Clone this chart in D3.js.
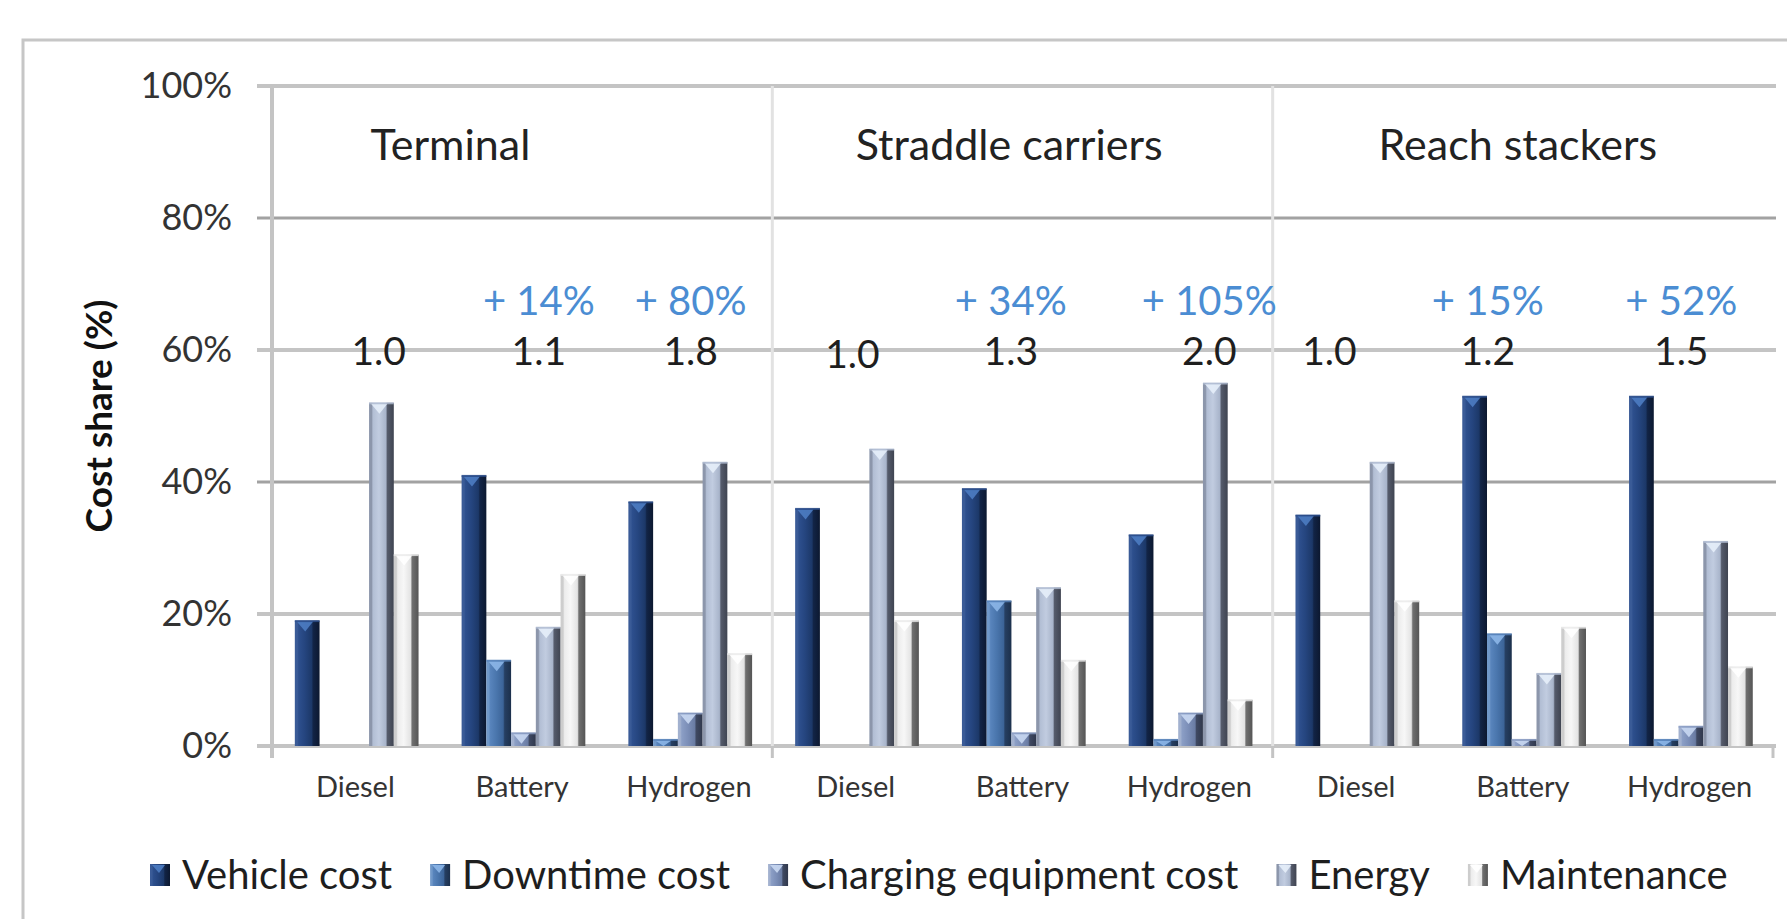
<!DOCTYPE html>
<html>
<head>
<meta charset="utf-8">
<script src="https://cdn.jsdelivr.net/npm/d3@7"></script>
<style>
  html, body { margin: 0; padding: 0; background: #ffffff; }
  svg { display: block; }
  text { font-family: Lato, "Open Sans", "Noto Sans", sans-serif; }
</style>
</head>
<body>
<svg id="chart" width="1787" height="919"></svg>
<script>
// ---- data -------------------------------------------------------------
const groups = ["Terminal", "Straddle carriers", "Reach stackers"];
const powertrains = ["Diesel", "Battery", "Hydrogen"];
const seriesNames = ["Vehicle cost", "Downtime cost", "Charging equipment cost", "Energy", "Maintenance"];

// cost shares (%) per group × powertrain, in the order of groups then powertrains
const vehicleCost     = [19, 41, 37, 36, 39, 32, 35, 53, 53];
const downtimeCost    = [ 0, 13,  1,  0, 22,  1,  0, 17,  1];
const chargingCost    = [ 0,  2,  5,  0,  2,  5,  0,  1,  3];
const energyCost      = [52, 18, 43, 45, 24, 55, 43, 11, 31];
const maintenanceCost = [29, 26, 14, 19, 13,  7, 22, 18, 12];

// total cost relative to diesel, and increase over diesel (%)
const relativeCost = ["1.0", "1.1", "1.8", "1.0", "1.3", "2.0", "1.0", "1.2", "1.5"];
const costIncrease = [null, 14, 80, null, 34, 105, null, 15, 52];

const yTicks = [0, 20, 40, 60, 80, 100];

// ---- setup ------------------------------------------------------------
const seriesValues = [vehicleCost, downtimeCost, chargingCost, energyCost, maintenanceCost];
const categories = groups.flatMap(g => powertrains.map(p => g + "|" + p));

const svg = d3.select("#chart");
const W = 1787, H = 919;

const x = d3.scaleBand().domain(categories).range([272, 1773]).paddingInner(0).paddingOuter(0);
const xs = d3.scaleBand().domain(seriesNames).range([0, x.bandwidth()])
  .paddingInner(0).paddingOuter(0.87).align(0.53);
const y = d3.scaleLinear().domain([0, 100]).range([746, 86]);

// 3D-look column shading for each series: [left edge, light, face, shade, side, side dark, top]
const shades = [
  ["#3a5b97", "#2d4f8d", "#25457f", "#1c3868", "#122446", "#0c1830", "#4d7cc2"],
  ["#7098c9", "#5884bc", "#4a76ad", "#3c6498", "#263f62", "#1c304c", "#8cb6e8"],
  ["#a2b1cf", "#8b9ec5", "#7c8fb8", "#6a7ca3", "#3f4962", "#30384c", "#c9d8f2"],
  ["#8c96ab", "#b2bed4", "#c1cce0", "#a8b4ca", "#555b6b", "#3f4451", "#e6eefa"],
  ["#cdcdcd", "#ececec", "#f7f7f7", "#e3e3e3", "#707070", "#555555", "#ffffff"]
];

const defs = svg.append("defs");
shades.forEach((c, i) => {
  const gr = defs.append("linearGradient").attr("id", "bar" + i)
    .attr("x1", 0).attr("x2", 1).attr("y1", 0).attr("y2", 0);
  [[0, c[0]], [0.1, c[0]], [0.16, c[1]], [0.4, c[2]], [0.68, c[3]], [0.74, c[4]], [1, c[5]]]
    .forEach(([o, col]) => gr.append("stop").attr("offset", o).attr("stop-color", col));
});

// ---- chart frame ------------------------------------------------------
svg.append("path")
  .attr("d", `M23,${H} V40 H${W}`)
  .attr("fill", "none").attr("stroke", "#c6c6c6").attr("stroke-width", 3);

// ---- gridlines --------------------------------------------------------
svg.append("g").selectAll("line").data(yTicks).join("line")
  .attr("x1", 257).attr("x2", 1776)
  .attr("y1", d => y(d)).attr("y2", d => y(d))
  .attr("stroke", d => (d === 80 || d === 40) ? "#a2a2a2" : "#c4c4c4")
  .attr("stroke-width", d => (d === 80 || d === 40) ? 3 : 4);

// group separators
const sepCats = [categories[3], categories[6]];
svg.append("g").selectAll("line").data(sepCats).join("line")
  .attr("x1", d => x(d)).attr("x2", d => x(d))
  .attr("y1", y(100)).attr("y2", y(0))
  .attr("stroke", "#e2e2e2").attr("stroke-width", 3);
svg.append("g").selectAll("line").data([...sepCats, null]).join("line")
  .attr("x1", d => d ? x(d) : x.range()[1]).attr("x2", d => d ? x(d) : x.range()[1])
  .attr("y1", y(0)).attr("y2", y(0) + 12)
  .attr("stroke", "#c4c4c4").attr("stroke-width", 3);

// ---- bars -------------------------------------------------------------
const bars = svg.append("g");
seriesNames.forEach((s, si) => {
  const data = seriesValues[si].map((v, i) => ({ v, c: categories[i] })).filter(d => d.v > 0);
  const g = bars.append("g");
  const bx = d => x(d.c) + xs(s);
  const bw = xs.bandwidth();
  g.selectAll("rect").data(data).join("rect")
    .attr("x", bx).attr("y", d => y(d.v))
    .attr("width", bw).attr("height", d => y(0) - y(d.v))
    .attr("fill", `url(#bar${si})`);
  // bevelled top
  g.selectAll("path.top").data(data).join("path").attr("class", "top")
    .attr("d", d => {
      const x0 = bx(d), t = y(d.v), th = Math.min(11, y(0) - t);
      return `M${x0 + 2},${t + 1} H${x0 + bw * 0.74} L${x0 + bw * 0.42},${t + th} Z`;
    })
    .attr("fill", shades[si][6]).attr("opacity", 0.9);
  g.selectAll("line.top").data(data).join("line").attr("class", "top")
    .attr("x1", bx).attr("x2", d => bx(d) + bw)
    .attr("y1", d => y(d.v) + 0.5).attr("y2", d => y(d.v) + 0.5)
    .attr("stroke", shades[si][1]).attr("stroke-width", 2).attr("opacity", 0.8);
});

// ---- axes -------------------------------------------------------------
svg.append("line")
  .attr("x1", x.range()[0]).attr("x2", x.range()[0])
  .attr("y1", y(100)).attr("y2", y(0) + 12)
  .attr("stroke", "#c4c4c4").attr("stroke-width", 4);

const yAxis = svg.append("g").attr("transform", `translate(${x.range()[0]},0)`)
  .call(d3.axisLeft(y).tickValues(yTicks).tickFormat(d => d + "%")
    .tickSizeInner(0).tickSizeOuter(0).tickPadding(40));
yAxis.select(".domain").remove();
yAxis.selectAll("text").attr("font-size", 36).attr("fill", "#333")
  .attr("font-family", "Lato, 'Open Sans', sans-serif");

const xAxis = svg.append("g").attr("transform", `translate(0,${y(0)})`)
  .call(d3.axisBottom(x).tickFormat(d => d.split("|")[1]).tickSize(0).tickPadding(30));
xAxis.select(".domain").remove();
xAxis.selectAll("text").attr("font-size", 29).attr("fill", "#333")
  .attr("font-family", "Lato, 'Open Sans', sans-serif");

svg.append("text")
  .attr("transform", `translate(112,${416}) rotate(-90)`)
  .attr("text-anchor", "middle")
  .attr("font-size", 37).attr("font-weight", "bold").attr("fill", "#111")
  .text("Cost share (%)");

// ---- group titles -----------------------------------------------------
const titleShift = [-0.43, -0.08, -0.03];   // in category-band units
svg.append("g").selectAll("text").data(groups).join("text")
  .attr("x", (g, i) => x(categories[i * 3 + 1]) + x.bandwidth() * (0.5 + titleShift[i]))
  .attr("y", 160)
  .attr("text-anchor", "middle").attr("font-size", 43).attr("fill", "#222")
  .text(d => d);

// ---- cost annotations -------------------------------------------------
const noteShift = [0.14, 0.10, 0.01, -0.02, -0.07, 0.12, -0.16, -0.21, -0.05];
const noteX = i => x(categories[i]) + x.bandwidth() * (0.5 + noteShift[i]);
svg.append("g").selectAll("text").data(relativeCost).join("text")
  .attr("x", (d, i) => noteX(i))
  .attr("y", (d, i) => y(60) + (i === 3 ? 18 : 15))
  .attr("text-anchor", "middle").attr("font-size", 39).attr("fill", "#1e1e1e")
  .text(d => d);
svg.append("g").selectAll("text")
  .data(costIncrease.map((v, i) => ({ v, i })).filter(d => d.v !== null)).join("text")
  .attr("x", d => noteX(d.i))
  .attr("y", y(60) - 35)
  .attr("text-anchor", "middle").attr("font-size", 40).attr("fill", "#4b8dd3")
  .text(d => "+ " + d.v + "%");

// ---- legend -----------------------------------------------------------
const legend = svg.append("g").attr("transform", "translate(150,875)");
let lx = 0;
seriesNames.forEach((s, si) => {
  const item = legend.append("g").attr("transform", `translate(${lx},0)`);
  item.append("rect").attr("x", 0).attr("y", -11).attr("width", 20).attr("height", 22)
    .attr("fill", `url(#bar${si})`);
  item.append("path").attr("d", "M2,-10 H15 L9,-2 Z").attr("fill", shades[si][6]).attr("opacity", 0.9);
  const t = item.append("text").attr("x", 32).attr("y", 0).attr("dy", "0.36em")
    .attr("font-size", 40).attr("fill", "#1e1e1e").text(s);
  lx += 32 + t.node().getComputedTextLength() + 38;
});
</script>
</body>
</html>
